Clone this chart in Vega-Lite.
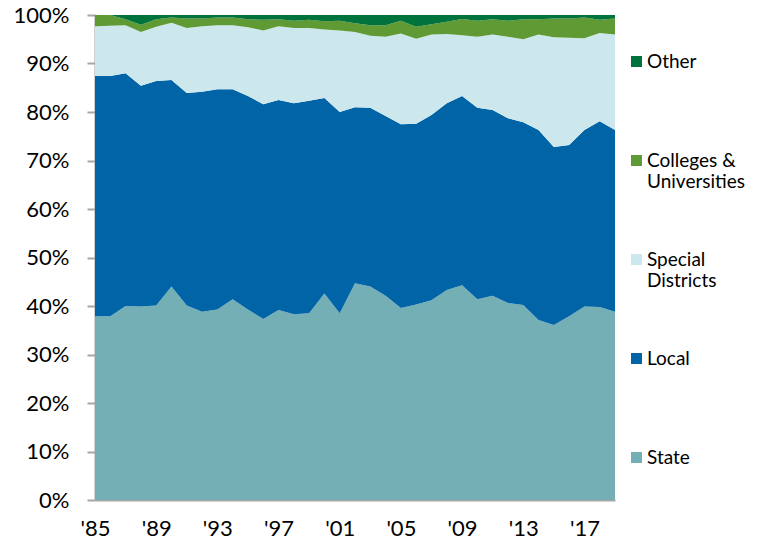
{
  "$schema": "https://vega.github.io/schema/vega-lite/v6.json",
  "autosize": {"type": "none"},
  "padding": {"left": 95, "top": 15, "right": 150, "bottom": 47},
  "width": 520,
  "height": 485,
  "background": "white",
  "config": {
    "font": "Lato",
    "view": {"stroke": null},
    "axis": {"labelFont": "Lato", "labelColor": "#000000", "labelFontSize": 22, "grid": false, "domainColor": "#a6a6a6", "domainWidth": 2, "tickColor": "#a6a6a6", "tickWidth": 2, "title": null},
    "legend": {"labelFont": "Lato", "labelColor": "#000000", "labelFontSize": 19}
  },
  "data": {"values": [
    {"year":1985,"sector":"State","rank":1,"value":37.9},{"year":1985,"sector":"Local","rank":2,"value":49.5},{"year":1985,"sector":"Special Districts","rank":3,"value":10.3},{"year":1985,"sector":"Colleges & Universities","rank":4,"value":2.3},{"year":1985,"sector":"Other","rank":5,"value":0.0},
    {"year":1986,"sector":"State","rank":1,"value":37.9},{"year":1986,"sector":"Local","rank":2,"value":49.5},{"year":1986,"sector":"Special Districts","rank":3,"value":10.4},{"year":1986,"sector":"Colleges & Universities","rank":4,"value":2.2},{"year":1986,"sector":"Other","rank":5,"value":0.0},
    {"year":1987,"sector":"State","rank":1,"value":40.0},{"year":1987,"sector":"Local","rank":2,"value":48.0},{"year":1987,"sector":"Special Districts","rank":3,"value":9.9},{"year":1987,"sector":"Colleges & Universities","rank":4,"value":1.2},{"year":1987,"sector":"Other","rank":5,"value":0.9},
    {"year":1988,"sector":"State","rank":1,"value":39.9},{"year":1988,"sector":"Local","rank":2,"value":45.5},{"year":1988,"sector":"Special Districts","rank":3,"value":11.1},{"year":1988,"sector":"Colleges & Universities","rank":4,"value":1.5},{"year":1988,"sector":"Other","rank":5,"value":2.0},
    {"year":1989,"sector":"State","rank":1,"value":40.1},{"year":1989,"sector":"Local","rank":2,"value":46.3},{"year":1989,"sector":"Special Districts","rank":3,"value":11.2},{"year":1989,"sector":"Colleges & Universities","rank":4,"value":1.5},{"year":1989,"sector":"Other","rank":5,"value":0.9},
    {"year":1990,"sector":"State","rank":1,"value":44.0},{"year":1990,"sector":"Local","rank":2,"value":42.6},{"year":1990,"sector":"Special Districts","rank":3,"value":11.8},{"year":1990,"sector":"Colleges & Universities","rank":4,"value":1.1},{"year":1990,"sector":"Other","rank":5,"value":0.5},
    {"year":1991,"sector":"State","rank":1,"value":40.1},{"year":1991,"sector":"Local","rank":2,"value":43.8},{"year":1991,"sector":"Special Districts","rank":3,"value":13.4},{"year":1991,"sector":"Colleges & Universities","rank":4,"value":2.0},{"year":1991,"sector":"Other","rank":5,"value":0.7},
    {"year":1992,"sector":"State","rank":1,"value":38.8},{"year":1992,"sector":"Local","rank":2,"value":45.4},{"year":1992,"sector":"Special Districts","rank":3,"value":13.5},{"year":1992,"sector":"Colleges & Universities","rank":4,"value":1.6},{"year":1992,"sector":"Other","rank":5,"value":0.7},
    {"year":1993,"sector":"State","rank":1,"value":39.3},{"year":1993,"sector":"Local","rank":2,"value":45.4},{"year":1993,"sector":"Special Districts","rank":3,"value":13.2},{"year":1993,"sector":"Colleges & Universities","rank":4,"value":1.6},{"year":1993,"sector":"Other","rank":5,"value":0.5},
    {"year":1994,"sector":"State","rank":1,"value":41.4},{"year":1994,"sector":"Local","rank":2,"value":43.3},{"year":1994,"sector":"Special Districts","rank":3,"value":13.2},{"year":1994,"sector":"Colleges & Universities","rank":4,"value":1.6},{"year":1994,"sector":"Other","rank":5,"value":0.5},
    {"year":1995,"sector":"State","rank":1,"value":39.3},{"year":1995,"sector":"Local","rank":2,"value":44.0},{"year":1995,"sector":"Special Districts","rank":3,"value":14.2},{"year":1995,"sector":"Colleges & Universities","rank":4,"value":1.6},{"year":1995,"sector":"Other","rank":5,"value":0.9},
    {"year":1996,"sector":"State","rank":1,"value":37.3},{"year":1996,"sector":"Local","rank":2,"value":44.3},{"year":1996,"sector":"Special Districts","rank":3,"value":15.2},{"year":1996,"sector":"Colleges & Universities","rank":4,"value":2.2},{"year":1996,"sector":"Other","rank":5,"value":1.0},
    {"year":1997,"sector":"State","rank":1,"value":39.2},{"year":1997,"sector":"Local","rank":2,"value":43.3},{"year":1997,"sector":"Special Districts","rank":3,"value":15.2},{"year":1997,"sector":"Colleges & Universities","rank":4,"value":1.4},{"year":1997,"sector":"Other","rank":5,"value":0.9},
    {"year":1998,"sector":"State","rank":1,"value":38.3},{"year":1998,"sector":"Local","rank":2,"value":43.5},{"year":1998,"sector":"Special Districts","rank":3,"value":15.5},{"year":1998,"sector":"Colleges & Universities","rank":4,"value":1.5},{"year":1998,"sector":"Other","rank":5,"value":1.2},
    {"year":1999,"sector":"State","rank":1,"value":38.5},{"year":1999,"sector":"Local","rank":2,"value":43.8},{"year":1999,"sector":"Special Districts","rank":3,"value":15.0},{"year":1999,"sector":"Colleges & Universities","rank":4,"value":1.7},{"year":1999,"sector":"Other","rank":5,"value":1.0},
    {"year":2000,"sector":"State","rank":1,"value":42.6},{"year":2000,"sector":"Local","rank":2,"value":40.3},{"year":2000,"sector":"Special Districts","rank":3,"value":14.1},{"year":2000,"sector":"Colleges & Universities","rank":4,"value":1.7},{"year":2000,"sector":"Other","rank":5,"value":1.3},
    {"year":2001,"sector":"State","rank":1,"value":38.5},{"year":2001,"sector":"Local","rank":2,"value":41.5},{"year":2001,"sector":"Special Districts","rank":3,"value":16.8},{"year":2001,"sector":"Colleges & Universities","rank":4,"value":2.0},{"year":2001,"sector":"Other","rank":5,"value":1.2},
    {"year":2002,"sector":"State","rank":1,"value":44.7},{"year":2002,"sector":"Local","rank":2,"value":36.3},{"year":2002,"sector":"Special Districts","rank":3,"value":15.5},{"year":2002,"sector":"Colleges & Universities","rank":4,"value":1.8},{"year":2002,"sector":"Other","rank":5,"value":1.7},
    {"year":2003,"sector":"State","rank":1,"value":44.0},{"year":2003,"sector":"Local","rank":2,"value":36.9},{"year":2003,"sector":"Special Districts","rank":3,"value":14.8},{"year":2003,"sector":"Colleges & Universities","rank":4,"value":2.2},{"year":2003,"sector":"Other","rank":5,"value":2.1},
    {"year":2004,"sector":"State","rank":1,"value":42.1},{"year":2004,"sector":"Local","rank":2,"value":37.1},{"year":2004,"sector":"Special Districts","rank":3,"value":16.3},{"year":2004,"sector":"Colleges & Universities","rank":4,"value":2.4},{"year":2004,"sector":"Other","rank":5,"value":2.1},
    {"year":2005,"sector":"State","rank":1,"value":39.6},{"year":2005,"sector":"Local","rank":2,"value":37.9},{"year":2005,"sector":"Special Districts","rank":3,"value":18.7},{"year":2005,"sector":"Colleges & Universities","rank":4,"value":2.6},{"year":2005,"sector":"Other","rank":5,"value":1.2},
    {"year":2006,"sector":"State","rank":1,"value":40.3},{"year":2006,"sector":"Local","rank":2,"value":37.3},{"year":2006,"sector":"Special Districts","rank":3,"value":17.5},{"year":2006,"sector":"Colleges & Universities","rank":4,"value":2.5},{"year":2006,"sector":"Other","rank":5,"value":2.4},
    {"year":2007,"sector":"State","rank":1,"value":41.2},{"year":2007,"sector":"Local","rank":2,"value":38.2},{"year":2007,"sector":"Special Districts","rank":3,"value":16.6},{"year":2007,"sector":"Colleges & Universities","rank":4,"value":2.1},{"year":2007,"sector":"Other","rank":5,"value":1.9},
    {"year":2008,"sector":"State","rank":1,"value":43.3},{"year":2008,"sector":"Local","rank":2,"value":38.5},{"year":2008,"sector":"Special Districts","rank":3,"value":14.3},{"year":2008,"sector":"Colleges & Universities","rank":4,"value":2.5},{"year":2008,"sector":"Other","rank":5,"value":1.4},
    {"year":2009,"sector":"State","rank":1,"value":44.3},{"year":2009,"sector":"Local","rank":2,"value":39.0},{"year":2009,"sector":"Special Districts","rank":3,"value":12.5},{"year":2009,"sector":"Colleges & Universities","rank":4,"value":3.4},{"year":2009,"sector":"Other","rank":5,"value":0.8},
    {"year":2010,"sector":"State","rank":1,"value":41.4},{"year":2010,"sector":"Local","rank":2,"value":39.5},{"year":2010,"sector":"Special Districts","rank":3,"value":14.6},{"year":2010,"sector":"Colleges & Universities","rank":4,"value":3.3},{"year":2010,"sector":"Other","rank":5,"value":1.2},
    {"year":2011,"sector":"State","rank":1,"value":42.1},{"year":2011,"sector":"Local","rank":2,"value":38.3},{"year":2011,"sector":"Special Districts","rank":3,"value":15.6},{"year":2011,"sector":"Colleges & Universities","rank":4,"value":3.1},{"year":2011,"sector":"Other","rank":5,"value":0.9},
    {"year":2012,"sector":"State","rank":1,"value":40.6},{"year":2012,"sector":"Local","rank":2,"value":38.1},{"year":2012,"sector":"Special Districts","rank":3,"value":16.8},{"year":2012,"sector":"Colleges & Universities","rank":4,"value":3.3},{"year":2012,"sector":"Other","rank":5,"value":1.2},
    {"year":2013,"sector":"State","rank":1,"value":40.2},{"year":2013,"sector":"Local","rank":2,"value":37.7},{"year":2013,"sector":"Special Districts","rank":3,"value":17.1},{"year":2013,"sector":"Colleges & Universities","rank":4,"value":4.1},{"year":2013,"sector":"Other","rank":5,"value":0.9},
    {"year":2014,"sector":"State","rank":1,"value":37.1},{"year":2014,"sector":"Local","rank":2,"value":39.2},{"year":2014,"sector":"Special Districts","rank":3,"value":19.7},{"year":2014,"sector":"Colleges & Universities","rank":4,"value":3.1},{"year":2014,"sector":"Other","rank":5,"value":0.9},
    {"year":2015,"sector":"State","rank":1,"value":36.1},{"year":2015,"sector":"Local","rank":2,"value":36.7},{"year":2015,"sector":"Special Districts","rank":3,"value":22.6},{"year":2015,"sector":"Colleges & Universities","rank":4,"value":3.9},{"year":2015,"sector":"Other","rank":5,"value":0.7},
    {"year":2016,"sector":"State","rank":1,"value":37.9},{"year":2016,"sector":"Local","rank":2,"value":35.3},{"year":2016,"sector":"Special Districts","rank":3,"value":22.1},{"year":2016,"sector":"Colleges & Universities","rank":4,"value":4.0},{"year":2016,"sector":"Other","rank":5,"value":0.7},
    {"year":2017,"sector":"State","rank":1,"value":39.9},{"year":2017,"sector":"Local","rank":2,"value":36.4},{"year":2017,"sector":"Special Districts","rank":3,"value":18.9},{"year":2017,"sector":"Colleges & Universities","rank":4,"value":4.3},{"year":2017,"sector":"Other","rank":5,"value":0.5},
    {"year":2018,"sector":"State","rank":1,"value":39.8},{"year":2018,"sector":"Local","rank":2,"value":38.3},{"year":2018,"sector":"Special Districts","rank":3,"value":18.2},{"year":2018,"sector":"Colleges & Universities","rank":4,"value":2.7},{"year":2018,"sector":"Other","rank":5,"value":1.0},
    {"year":2019,"sector":"State","rank":1,"value":38.8},{"year":2019,"sector":"Local","rank":2,"value":37.5},{"year":2019,"sector":"Special Districts","rank":3,"value":19.7},{"year":2019,"sector":"Colleges & Universities","rank":4,"value":3.3},{"year":2019,"sector":"Other","rank":5,"value":0.7}
  ]},
  "mark": {"type": "area", "interpolate": "linear", "strokeWidth": 0},
  "encoding": {
    "x": {
      "field": "year", "type": "quantitative",
      "scale": {"domain": [1985, 2019], "nice": false, "zero": false},
      "axis": {"values": [1985,1989,1993,1997,2001,2005,2009,2013,2017], "labelExpr": "\"'\" + substring(toString(datum.value), 2)", "ticks": false, "labelPadding": 18, "labelDx": 2, "labelFlush": false, "labelOverlap": false}
    },
    "y": {
      "field": "value", "type": "quantitative", "stack": "normalize",
      "scale": {"domain": [0, 1], "nice": false},
      "axis": {"values": [0,0.1,0.2,0.3,0.4,0.5,0.6,0.7,0.8,0.9,1], "format": ".0%", "tickSize": 8, "labelPadding": 18}
    },
    "order": {"field": "rank", "type": "quantitative", "sort": "ascending"},
    "color": {
      "field": "sector", "type": "nominal",
      "scale": {"domain": ["State", "Local", "Special Districts", "Colleges & Universities", "Other"], "range": ["#74afb6", "#0064a7", "#cce8ed", "#5f9a35", "#00733d"]},
      "legend": {
        "title": null, "orient": "none", "legendX": 532, "legendY": 37, "padding": 0,
        "values": ["Other", "Colleges & Universities", "Special Districts", "Local", "State"],
        "symbolType": "square", "symbolSize": 121, "symbolStrokeWidth": 0, "symbolOpacity": 1,
        "labelOffset": 1, "labelLimit": 200, "gridAlign": "all", "rowPadding": 58,
        "labelExpr": "datum.label == 'Colleges & Universities' ? ['Colleges &', 'Universities'] : datum.label == 'Special Districts' ? ['Special', 'Districts'] : datum.label"
      }
    }
  }
}
